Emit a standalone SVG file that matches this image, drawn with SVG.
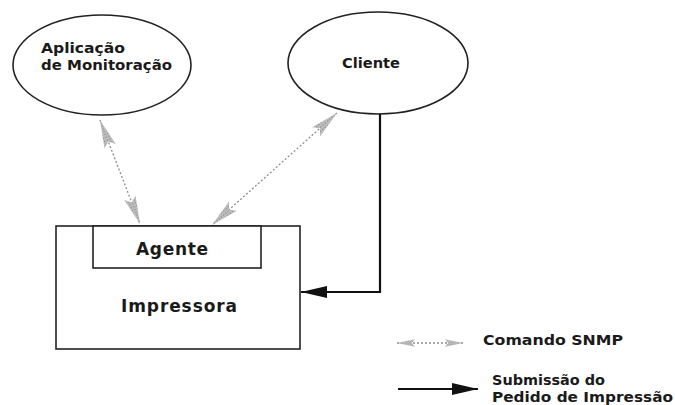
<svg xmlns="http://www.w3.org/2000/svg" width="675" height="405" viewBox="0 0 675 405">
  <style>
    .shape { fill: #fff; stroke: #222; stroke-width: 1.6; }
    .lbl { font-family: "DejaVu Sans", "Liberation Sans", Arial, sans-serif; font-weight: bold; fill: #1a1a1a; }
    .snmp { stroke: #8e8e8e; stroke-width: 1.3; stroke-dasharray: 2 2; fill: none; }
    .submit { stroke: #111; stroke-width: 2.2; fill: none; }
  </style>
  <defs>
    <pattern id="stipple" width="3" height="3" patternUnits="userSpaceOnUse">
      <rect width="3" height="3" fill="#c8c8c8"/>
      <rect x="0" y="0" width="1.3" height="1.3" fill="#7e7e7e"/>
      <rect x="1.6" y="1.6" width="1" height="1" fill="#9c9c9c"/>
    </pattern>
    <marker id="snmpHead" viewBox="0 0 28 14" refX="28" refY="7" markerWidth="28" markerHeight="14" markerUnits="userSpaceOnUse" orient="auto-start-reverse">
      <path d="M0,1 L28,7 L0,13 L5,7 Z" fill="url(#stipple)"/>
    </marker>
    <marker id="snmpHeadSmall" viewBox="0 0 28 14" refX="28" refY="7" markerWidth="20" markerHeight="9" markerUnits="userSpaceOnUse" orient="auto-start-reverse">
      <path d="M0,1 L28,7 L0,13 L5,7 Z" fill="url(#stipple)"/>
    </marker>
    <marker id="blackHead" viewBox="0 0 26 12" refX="26" refY="6" markerWidth="26" markerHeight="12" markerUnits="userSpaceOnUse" orient="auto">
      <path d="M0,0 L26,6 L0,12 Z" fill="#111"/>
    </marker>
  </defs>

  <rect width="675" height="405" fill="#fff"/>

  <g id="aplicacao">
    <ellipse class="shape" cx="102" cy="65" rx="89" ry="50"/>
    <text class="lbl" x="41" y="53" font-size="14.5" textLength="84" lengthAdjust="spacingAndGlyphs">Aplicação</text>
    <text class="lbl" x="41" y="70" font-size="14.5" textLength="131" lengthAdjust="spacingAndGlyphs">de Monitoração</text>
  </g>

  <g id="cliente">
    <ellipse class="shape" cx="378" cy="63" rx="90" ry="51"/>
    <text class="lbl" x="342" y="68" font-size="14.5" textLength="58" lengthAdjust="spacingAndGlyphs">Cliente</text>
  </g>

  <g id="impressora">
    <rect class="shape" x="56" y="226" width="244" height="123"/>
    <text class="lbl" x="121" y="312" font-size="17" font-weight="600" textLength="116" lengthAdjust="spacing">Impressora</text>
  </g>

  <g id="agente">
    <rect class="shape" x="93" y="226" width="168" height="42"/>
    <text class="lbl" x="136" y="255" font-size="17" font-weight="600" textLength="72" lengthAdjust="spacing">Agente</text>
  </g>

  <g id="connectors">
    <line class="snmp" x1="100" y1="120" x2="140" y2="224" marker-start="url(#snmpHead)" marker-end="url(#snmpHead)"/>
    <line class="snmp" x1="337" y1="113" x2="212" y2="225" marker-start="url(#snmpHead)" marker-end="url(#snmpHead)"/>
    <polyline class="submit" points="380,114 380,292 301,292" marker-end="url(#blackHead)"/>
  </g>

  <g id="legenda">
    <line class="snmp" x1="397" y1="343" x2="463" y2="343" marker-start="url(#snmpHeadSmall)" marker-end="url(#snmpHeadSmall)"/>
    <text class="lbl" x="483" y="345" font-size="14" textLength="140" lengthAdjust="spacingAndGlyphs">Comando SNMP</text>
    <line class="submit" x1="398" y1="389" x2="478" y2="389" marker-end="url(#blackHead)"/>
    <text class="lbl" x="492" y="385" font-size="14" textLength="113" lengthAdjust="spacingAndGlyphs">Submissão do</text>
    <text class="lbl" x="492" y="402" font-size="14" textLength="181" lengthAdjust="spacingAndGlyphs">Pedido de Impressão</text>
  </g>
</svg>
